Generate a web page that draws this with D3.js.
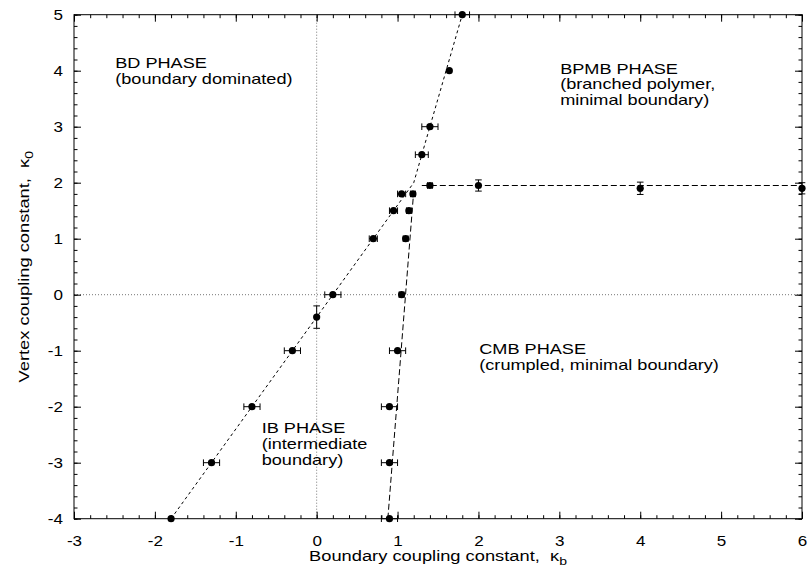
<!DOCTYPE html>
<html>
<head>
<meta charset="utf-8">
<script src="https://cdn.jsdelivr.net/npm/d3@7"></script>
<style>
  body { margin: 0; background: #fff; }
  svg { display: block; font-family: "Liberation Sans", Arial, Helvetica, sans-serif; }
</style>
</head>
<body>
<div class="container"></div>
<script>
// phase boundary data
const leftX    = [-1.8, -1.3, -0.8, -0.3, 0, 0.2, 0.7, 0.95, 1.05, 1.3, 1.4, 1.64, 1.8];
const leftY    = [-4, -3, -2, -1, -0.4, 0, 1, 1.5, 1.8, 2.5, 3, 4, 5];
const leftXErr = [0, 0.1, 0.1, 0.1, 0, 0.1, 0.05, 0.05, 0.05, 0.08, 0.1, 0, 0.09];
const leftYErr = [0, 0, 0, 0, 0.2, 0, 0, 0, 0, 0, 0, 0, 0];

const rightX    = [0.9, 0.9, 0.9, 1.0, 1.05, 1.1, 1.14, 1.19];
const rightY    = [-4, -3, -2, -1, 0, 1, 1.5, 1.8];
const rightXErr = [0.1, 0.1, 0.1, 0.1, 0.03, 0.03, 0.03, 0.03];

const flatX    = [1.4, 2, 4, 6];
const flatY    = [1.95, 1.95, 1.9, 1.9];
const flatXErr = [0.03, 0, 0, 0];
const flatYErr = [0.03, 0.1, 0.11, 0.1];

// dashed boundary lines
const leftFitX  = [-1.8, 1.2, 1.8];
const leftFitY  = [-4, 2, 5];
const rightFitX = [0.88, 1.2];
const rightFitY = [-4, 1.85];
const flatFitX  = [1.3, 6];
const flatFitY  = [1.95, 1.95];

const xTicks = [-3, -2, -1, 0, 1, 2, 3, 4, 5, 6];
const yTicks = [-4, -3, -2, -1, 0, 1, 2, 3, 4, 5];

const width = 808, height = 575;
const margin = {top: 14.7, right: 6, bottom: 56.3, left: 74};
const stretch = 1.25; // text in the picture is wider than Liberation Sans

const svg = d3.select("div.container").append("svg")
    .attr("width", width)
    .attr("height", height);

const x = d3.scaleLinear().domain([-3, 6]).range([margin.left, width - margin.right]);
const y = d3.scaleLinear().domain([-4, 5]).range([height - margin.bottom, margin.top]);

//zero lines (dotted)
svg.append("line")
    .attr("x1", x(0)).attr("x2", x(0))
    .attr("y1", y(-4)).attr("y2", y(5))
    .attr("stroke", "#777").attr("stroke-dasharray", "1,2");
svg.append("line")
    .attr("x1", x(-3)).attr("x2", x(6))
    .attr("y1", y(0)).attr("y2", y(0))
    .attr("stroke", "#777").attr("stroke-dasharray", "1,2");

//axes with inward ticks on all sides
const fmt = d => String(d);
const minorX = d3.range(-3, 6.001, 0.2).map(d => +d.toFixed(1));
const minorY = d3.range(-4, 5.001, 0.2).map(d => +d.toFixed(1));

function styleAxis(g) {
    g.select(".domain").remove();
    g.selectAll("line").attr("stroke", "#000");
    g.selectAll("text").attr("fill", "#000").style("font-size", "15.5px");
}

svg.append("g")
    .attr("transform", `translate(0,${y(-4)})`)
    .call(d3.axisBottom(x).tickValues(xTicks).tickFormat(fmt).tickSizeInner(-7).tickSizeOuter(0))
    .call(styleAxis)
    .selectAll("text")
    .attr("y", 0).attr("dy", "0.71em")
    .attr("transform", "translate(0,16) scale(1.1,1)");
svg.append("g")
    .attr("transform", `translate(0,${y(-4)})`)
    .call(d3.axisBottom(x).tickValues(minorX).tickFormat("").tickSizeInner(-3.5).tickSizeOuter(0))
    .call(styleAxis);
svg.append("g")
    .attr("transform", `translate(0,${y(5)})`)
    .call(d3.axisTop(x).tickValues(xTicks).tickFormat("").tickSizeInner(-7).tickSizeOuter(0))
    .call(styleAxis);
svg.append("g")
    .attr("transform", `translate(0,${y(5)})`)
    .call(d3.axisTop(x).tickValues(minorX).tickFormat("").tickSizeInner(-3.5).tickSizeOuter(0))
    .call(styleAxis);

svg.append("g")
    .attr("transform", `translate(${x(-3)},0)`)
    .call(d3.axisLeft(y).tickValues(yTicks).tickFormat(fmt).tickSizeInner(-7).tickSizeOuter(0))
    .call(styleAxis)
    .selectAll("text")
    .attr("x", 0)
    .attr("transform", "translate(-11,0) scale(1.1,1)");
svg.append("g")
    .attr("transform", `translate(${x(-3)},0)`)
    .call(d3.axisLeft(y).tickValues(minorY).tickFormat("").tickSizeInner(-3.5).tickSizeOuter(0))
    .call(styleAxis);
svg.append("g")
    .attr("transform", `translate(${x(6)},0)`)
    .call(d3.axisRight(y).tickValues(yTicks).tickFormat("").tickSizeInner(-7).tickSizeOuter(0))
    .call(styleAxis);
svg.append("g")
    .attr("transform", `translate(${x(6)},0)`)
    .call(d3.axisRight(y).tickValues(minorY).tickFormat("").tickSizeInner(-3.5).tickSizeOuter(0))
    .call(styleAxis);

//frame
svg.append("rect")
    .attr("x", x(-3)).attr("y", y(5))
    .attr("width", x(6) - x(-3)).attr("height", y(-4) - y(5))
    .attr("fill", "none").attr("stroke", "#000").attr("stroke-width", 1);

//dashed boundary lines
const line = d3.line().x(d => x(d[0])).y(d => y(d[1]));
[[leftFitX, leftFitY, "3,3"], [rightFitX, rightFitY, "6,3"], [flatFitX, flatFitY, "6,3"]].forEach(([xs, ys, dash]) => {
    svg.append("path")
        .datum(xs.map((v, i) => [v, ys[i]]))
        .attr("d", line)
        .attr("fill", "none")
        .attr("stroke", "#000")
        .attr("stroke-width", 1)
        .attr("stroke-dasharray", dash);
});

//points with error bars
function drawSeries(xs, ys, xe, ye) {
    const data = xs.map((v, i) => ({x: v, y: ys[i], xe: xe[i], ye: ye[i]}));
    const g = svg.append("g").attr("stroke", "#000").attr("stroke-width", 1);
    const cap = 3.3;
    data.filter(d => d.xe > 0).forEach(d => {
        g.append("line").attr("x1", x(d.x - d.xe)).attr("x2", x(d.x + d.xe)).attr("y1", y(d.y)).attr("y2", y(d.y));
        g.append("line").attr("x1", x(d.x - d.xe)).attr("x2", x(d.x - d.xe)).attr("y1", y(d.y) - cap).attr("y2", y(d.y) + cap);
        g.append("line").attr("x1", x(d.x + d.xe)).attr("x2", x(d.x + d.xe)).attr("y1", y(d.y) - cap).attr("y2", y(d.y) + cap);
    });
    data.filter(d => d.ye > 0).forEach(d => {
        g.append("line").attr("x1", x(d.x)).attr("x2", x(d.x)).attr("y1", y(d.y - d.ye)).attr("y2", y(d.y + d.ye));
        g.append("line").attr("x1", x(d.x) - cap).attr("x2", x(d.x) + cap).attr("y1", y(d.y - d.ye)).attr("y2", y(d.y - d.ye));
        g.append("line").attr("x1", x(d.x) - cap).attr("x2", x(d.x) + cap).attr("y1", y(d.y + d.ye)).attr("y2", y(d.y + d.ye));
    });
    svg.append("g").selectAll("circle")
        .data(data)
        .enter()
        .append("circle")
        .attr("cx", d => x(d.x))
        .attr("cy", d => y(d.y))
        .attr("r", 3.6)
        .attr("fill", "#000");
}
drawSeries(leftX, leftY, leftXErr, leftYErr);
drawSeries(rightX, rightY, rightXErr, rightX.map(() => 0));
drawSeries(flatX, flatY, flatXErr, flatYErr);

//phase labels
const labels = [
    {x: -2.49, y: 4.05, lines: ["BD PHASE", "(boundary dominated)"]},
    {x: 3.01, y: 3.95, lines: ["BPMB PHASE", "(branched polymer,", "minimal boundary)"]},
    {x: 2.01, y: -1.06, lines: ["CMB PHASE", "(crumpled, minimal boundary)"]},
    {x: -0.68, y: -2.47, lines: ["IB PHASE", "(intermediate", "boundary)"]}
];
labels.forEach(l => {
    const t = svg.append("text")
        .attr("transform", `translate(${x(l.x)},${y(l.y)}) scale(${stretch},1)`)
        .style("font-size", "14.5px").attr("fill", "#000");
    l.lines.forEach((s, i) => {
        t.append("tspan").attr("x", 0).attr("y", i * 16).text(s);
    });
});

//axis titles
const xt = svg.append("text")
    .attr("transform", `translate(${(x(-3) + x(6)) / 2},561) scale(1.22,1)`)
    .attr("text-anchor", "middle")
    .style("font-size", "15px");
xt.append("tspan").text("Boundary coupling constant,\u00a0 κ");
xt.append("tspan").attr("dy", 4).style("font-size", "11.5px").text("b");

const yt = svg.append("text")
    .attr("transform", `translate(29,${(y(-4) + y(5)) / 2}) rotate(-90) scale(1.22,1)`)
    .attr("text-anchor", "middle")
    .style("font-size", "15px");
yt.append("tspan").text("Vertex coupling constant,\u00a0 κ");
yt.append("tspan").attr("dy", 4).style("font-size", "11.5px").text("0");
</script>
</body>
</html>
